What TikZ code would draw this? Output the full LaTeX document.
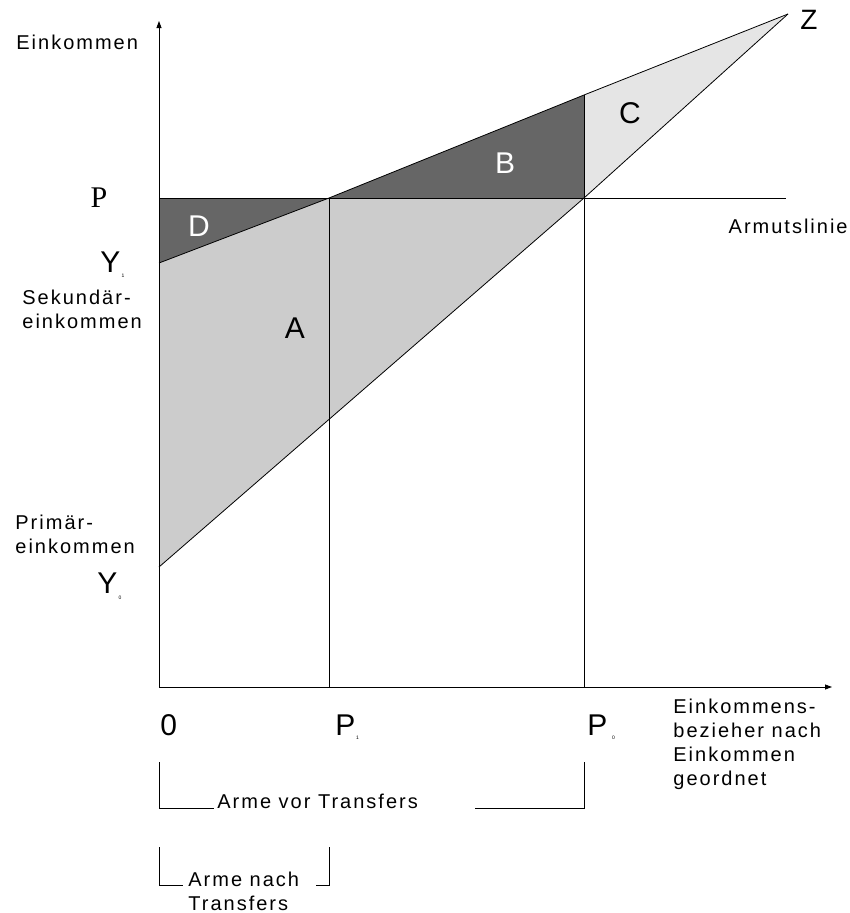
\documentclass[tikz,border=0pt]{standalone}
\usepackage{fontspec}
\setmainfont{Liberation Sans}
\newfontfamily\lblfont{Liberation Sans}[LetterSpace=10]
\newfontfamily\serfont{Liberation Serif}
\usetikzlibrary{arrows.meta}

\definecolor{areadark}{gray}{0.4}
\definecolor{areamid}{gray}{0.8}
\definecolor{arealight}{gray}{0.9}

\tikzset{
  lbl/.style={font=\lblfont\fontsize{20}{24}\selectfont, inner sep=0pt, anchor=base west, align=left},
  big/.style={font=\fontsize{30}{30}\selectfont, inner sep=0pt},
  sub/.style={font=\fontsize{5}{5}\selectfont, inner sep=0pt, anchor=base west}
}

\begin{document}
\begin{tikzpicture}[x=1pt, y=-1pt, >={Triangle[length=7pt,width=5pt]}, line width=0.8pt]
\useasboundingbox (0,0) rectangle (850,913);

% Punkte
\coordinate (O) at (159,687);
\coordinate (ytop) at (159,21);
\coordinate (xend) at (832,687);
\coordinate (Y0) at (159,567);
\coordinate (Y1) at (159,263);
\coordinate (Z) at (788,14);
\coordinate (PL) at (159,198);
\coordinate (PR) at (786,198);
\coordinate (S1) at (329,198);
\coordinate (S0) at (584,198);
\coordinate (Q) at (584,95);
\coordinate (P1) at (329,687);
\coordinate (P0) at (584,687);

% Flaechen
\fill[areamid] (Y0) -- (Y1) -- (S1) -- (S0) -- cycle;
\fill[areadark] (PL) -- (S1) -- (Y1) -- cycle;
\fill[areadark] (S1) -- (Q) -- (S0) -- cycle;
\fill[arealight] (S0) -- (Q) -- (Z) -- cycle;

% Achsen und Linien
\draw[->] (O) -- (ytop);
\draw[->] (O) -- (xend);
\draw (PL) -- (PR);
\draw (P1) -- (S1);
\draw (P0) -- (Q);
\draw (Y1) -- (S1) -- (Q) -- (Z);
\draw (Y0) -- (S0) -- (Z);

% Beschriftung (Basis = letzte Zeile)
\node[lbl] (einkommen) at (16,49) {Einkommen};
\node[lbl] (sek) at (22,328) {Sekundär-\\einkommen};
\node[lbl] (prim) at (15,553) {Primär-\\einkommen};
\node[lbl, anchor=base east] (armut) at (848,233) {Armutslinie};
\node[lbl] (bezieher) at (673,785) {Einkommens-\\bezieher nach\\Einkommen\\geordnet};

\node[inner sep=0pt, font=\serfont\fontsize{30}{30}\selectfont] (p) at (99,198) {P};
\node[big, anchor=base west] (y1) at (100,272) {Y};
\node[sub, xshift=0.5pt, yshift=-5pt] (y1sub) at (y1.base east) {1};
\node[big, anchor=base west] (y0) at (97,593) {Y};
\node[sub, xshift=0.5pt, yshift=-6pt] (y0sub) at (y0.base east) {0};

\node[big, text=white] (d) at (199,226) {D};
\node[big] (a) at (295,328) {A};
\node[big, text=white] (b) at (505,163) {B};
\node[big] (c) at (630,113) {C};
\node[big, font=\fontsize{28}{28}\selectfont] (z) at (809,20) {Z};

\node[big, anchor=base west] (null) at (160,735) {0};
\node[big, anchor=base west] (p1) at (335,735) {P};
\node[sub, yshift=-4pt] (p1sub) at (p1.base east) {1};
\node[big, anchor=base west] (p0) at (587,735) {P};
\node[sub, xshift=4pt, yshift=-4pt] (p0sub) at (p0.base east) {0};

% Klammern
\coordinate (b1l) at (159,762);
\coordinate (b1r) at (584,762);
\coordinate (b1m) at (214,808);
\coordinate (b1e) at (475,808);
\node[lbl] (vor) at (217,808) {Arme vor Transfers};
\draw (b1l) |- (b1m);
\draw (b1e) -| (b1r);

\coordinate (b2l) at (159,847);
\coordinate (b2r) at (329,847);
\coordinate (b2m) at (183,885);
\coordinate (b2e) at (316,885);
\node[lbl] (nach) at (188,910) {Arme nach\\Transfers};
\draw (b2l) |- (b2m);
\draw (b2e) -| (b2r);
\end{tikzpicture}
\end{document}
